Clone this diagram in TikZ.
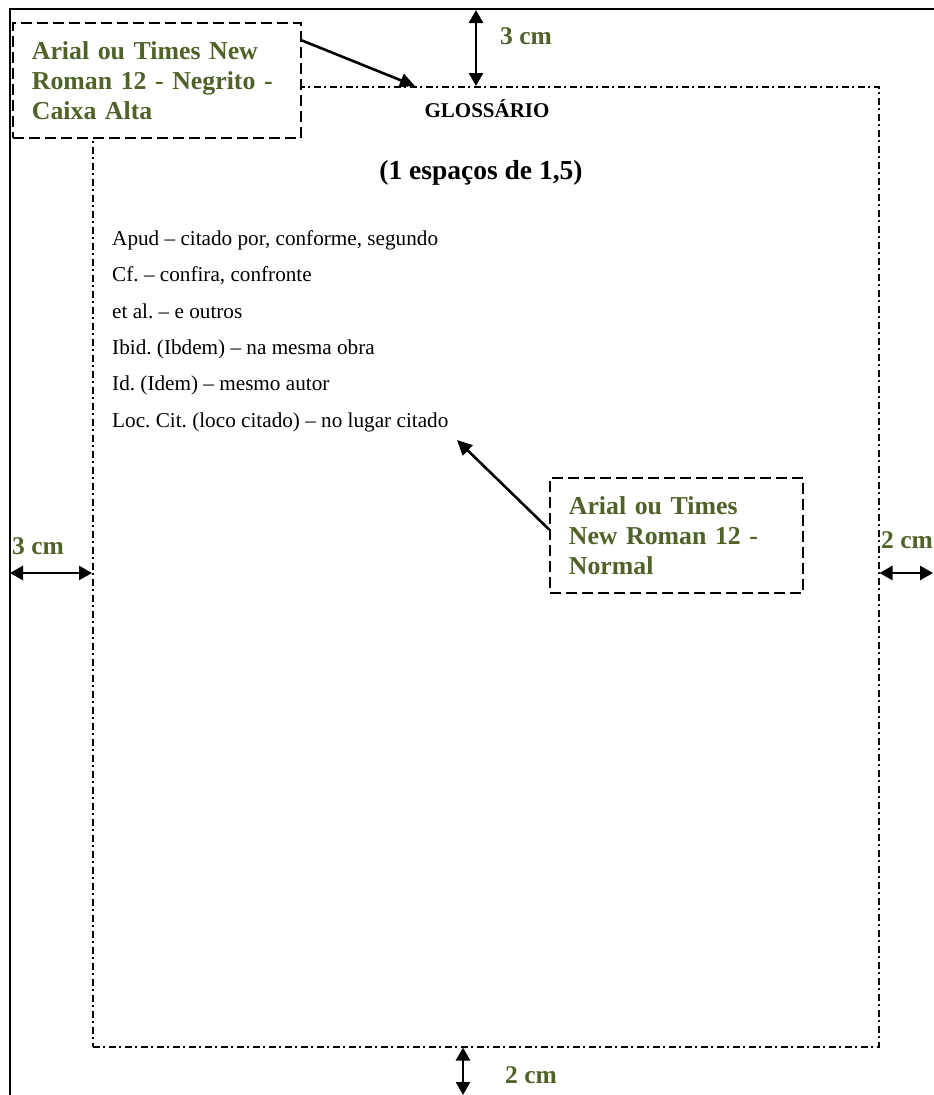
\documentclass[tikz,border=0pt]{standalone}
\usepackage{fontspec}
\setmainfont{Liberation Serif}
\usetikzlibrary{arrows.meta}
\definecolor{olivetext}{RGB}{79,98,40}
\frenchspacing

\begin{document}
\begin{tikzpicture}[
	x=1pt, y=-1pt,
	pageline/.style={line width=1.8pt},
	marginline/.style={draw, line width=1.5pt, dash pattern=on 7pt off 3.5pt on 2pt off 3.5pt},
	notebox/.style={draw, fill=white, line width=1.8pt, dash pattern=on 11pt off 5pt, text=olivetext, font=\fontsize{25.8}{30}\selectfont\bfseries, align=left, inner xsep=19pt, minimum height=115pt, anchor=north west},
	cmlabel/.style={text=olivetext, font=\fontsize{25.5}{30}\selectfont\bfseries, inner sep=0pt, anchor=west},
	entry/.style={font=\fontsize{21.2}{25}\selectfont, inner sep=0pt, anchor=base west},
	measure/.style={line width=2.6pt, {Triangle[length=13pt,width=14pt]}-{Triangle[length=13pt,width=14pt]}},
	pointer/.style={line width=2.6pt, -{Triangle[length=15pt,width=14pt]}}
	]
\useasboundingbox (0,0) rectangle (934,1095);

% margins of the page
\node[marginline, minimum width=786pt, minimum height=960pt, inner sep=0pt, anchor=north west] at (92,86) (textarea){};
\draw[pageline] (10,1100) -- (10,9) -- (940,9);

% title and entries
\node[font=\fontsize{21}{25}\selectfont\bfseries] at (487,109) (glossario){GLOSSÁRIO};
\node[font=\fontsize{27.5}{30}\selectfont\bfseries] at (481,173) (espacos){(1 espaços de 1,5)};

\node[entry] at (112,245) (apud){Apud – citado por, conforme, segundo};
\node[entry] at (112,281) (cf){Cf. – confira, confronte};
\node[entry] at (112,318) (etal){et al. – e outros};
\node[entry] at (112,354) (ibid){Ibid. (Ibdem) – na mesma obra};
\node[entry] at (112,390) (idem){Id. (Idem) – mesmo autor};
\node[entry] at (112,427) (loccit){Loc. Cit. (loco citado) – no lugar citado};

% notes
\node[notebox, text width=250pt] at (12,22) (negrito){Arial ou Times New\\Roman 12 - Negrito -\\Caixa Alta};
\node[notebox, text width=215pt] at (549,477) (normal){Arial ou Times\\New Roman 12 -\\Normal};

\coordinate (glosstip) at (415,86);
\coordinate (loctip) at (457,440);
\draw[pointer] ([yshift=40pt]negrito.east) -- (glosstip);
\draw[pointer] ([yshift=6pt]normal.west) -- (loctip);

% measures
\coordinate (pagetop) at (476,10);
\coordinate (pageleft) at (10,573);
\coordinate (pageright) at (933,573);
\coordinate (pagebottom) at (463,1095);

\draw[measure] (pagetop) -- (pagetop |- textarea.north);
\draw[measure] (pageleft) -- (pageleft -| textarea.west);
\draw[measure] (pageright -| textarea.east) -- (pageright);
\draw[measure] (pagebottom |- textarea.south) -- (pagebottom);

\node[cmlabel] at (500,36) (topcm){3 cm};
\node[cmlabel] at (12,546) (leftcm){3 cm};
\node[cmlabel] at (881,540) (rightcm){2 cm};
\node[cmlabel] at (505,1075) (bottomcm){2 cm};

\end{tikzpicture}
\end{document}
